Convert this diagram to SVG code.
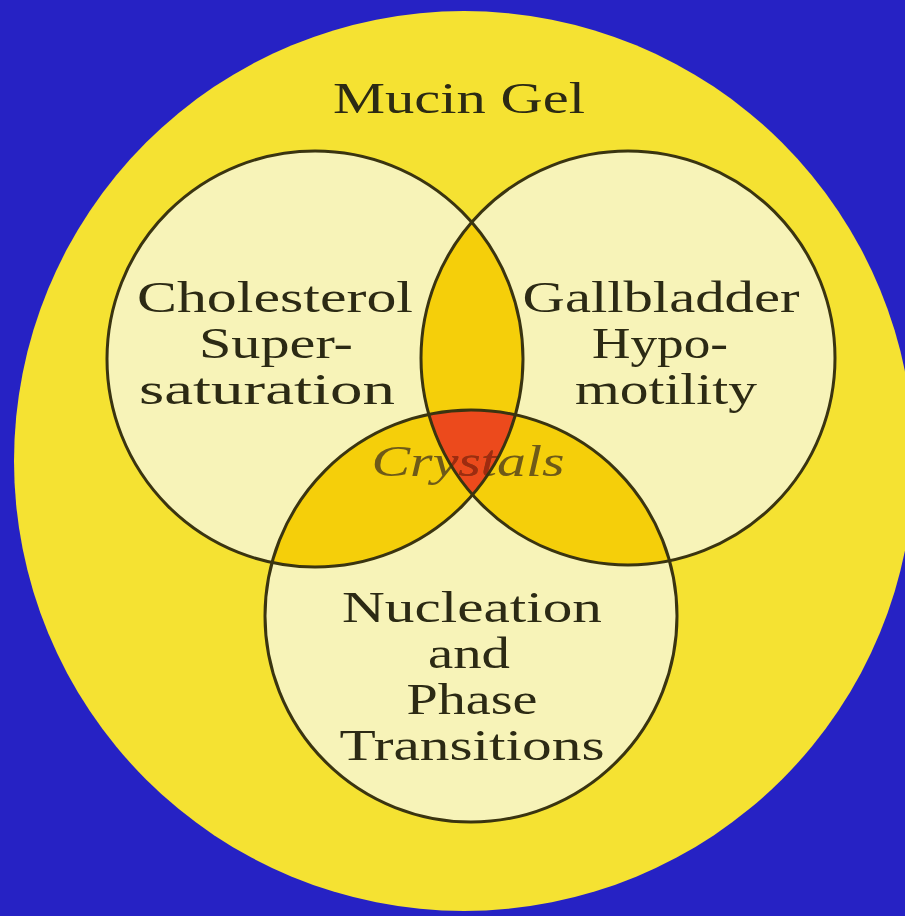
<svg xmlns="http://www.w3.org/2000/svg" width="905" height="916" viewBox="0 0 905 916">
<defs>
<style>
.lbl{font-family:"Liberation Serif","DejaVu Serif",serif;font-size:45px;fill:#2c2a14;text-anchor:middle}
.ring{stroke:#3a3410;stroke-width:3;fill:none}
.cry{font-family:"Liberation Serif","DejaVu Serif",serif;font-style:italic;font-size:44px;text-anchor:middle}
</style>
<clipPath id="cA"><circle cx="315" cy="359" r="208"/></clipPath>
<clipPath id="cB"><circle cx="628" cy="358" r="207"/></clipPath>
<clipPath id="cC"><circle cx="471" cy="616" r="206"/></clipPath>
</defs>
<rect width="905" height="916" fill="#2622c4"/>
<g id="mucin">
<circle cx="464" cy="461" r="450" fill="#f5e232"/>
<text class="lbl" x="459" y="113" font-size="45" textLength="252" lengthAdjust="spacingAndGlyphs">Mucin Gel</text>
</g>
<g id="fills">
<circle cx="315" cy="359" r="208" fill="#f7f3b8"/>
<circle cx="628" cy="358" r="207" fill="#f7f3b8"/>
<circle cx="471" cy="616" r="206" fill="#f7f3b8"/>
<circle cx="315" cy="359" r="208" fill="#f5cf0a" clip-path="url(#cB)"/>
<circle cx="315" cy="359" r="208" fill="#f5cf0a" clip-path="url(#cC)"/>
<circle cx="628" cy="358" r="207" fill="#f5cf0a" clip-path="url(#cC)"/>
<g clip-path="url(#cA)"><circle cx="628" cy="358" r="207" fill="#ec4a1c" clip-path="url(#cC)"/></g>
</g>
<g id="crystals">
<text class="cry" x="468" y="476" fill="#6e5a18" textLength="193" lengthAdjust="spacingAndGlyphs">Crystals</text>
<g clip-path="url(#cA)"><g clip-path="url(#cB)"><text class="cry" x="468" y="476" fill="#a02a10" textLength="193" lengthAdjust="spacingAndGlyphs" clip-path="url(#cC)">Crystals</text></g></g>
</g>
<g id="cholesterol">
<circle class="ring" cx="315" cy="359" r="208"/>
<text class="lbl" x="275" y="312" textLength="276" lengthAdjust="spacingAndGlyphs">Cholesterol</text>
<text class="lbl" x="276" y="358" textLength="154" lengthAdjust="spacingAndGlyphs">Super-</text>
<text class="lbl" x="267" y="404" textLength="256" lengthAdjust="spacingAndGlyphs">saturation</text>
</g>
<g id="gallbladder">
<circle class="ring" cx="628" cy="358" r="207"/>
<text class="lbl" x="661" y="312" textLength="277" lengthAdjust="spacingAndGlyphs">Gallbladder</text>
<text class="lbl" x="660" y="358" textLength="136" lengthAdjust="spacingAndGlyphs">Hypo-</text>
<text class="lbl" x="666" y="404" textLength="182" lengthAdjust="spacingAndGlyphs">motility</text>
</g>
<g id="nucleation">
<circle class="ring" cx="471" cy="616" r="206"/>
<text class="lbl" x="472" y="622" textLength="260" lengthAdjust="spacingAndGlyphs">Nucleation</text>
<text class="lbl" x="469" y="668" textLength="82" lengthAdjust="spacingAndGlyphs">and</text>
<text class="lbl" x="472" y="714" textLength="131" lengthAdjust="spacingAndGlyphs">Phase</text>
<text class="lbl" x="472" y="760" textLength="265" lengthAdjust="spacingAndGlyphs">Transitions</text>
</g>
<g id="connectors"></g>
</svg>
